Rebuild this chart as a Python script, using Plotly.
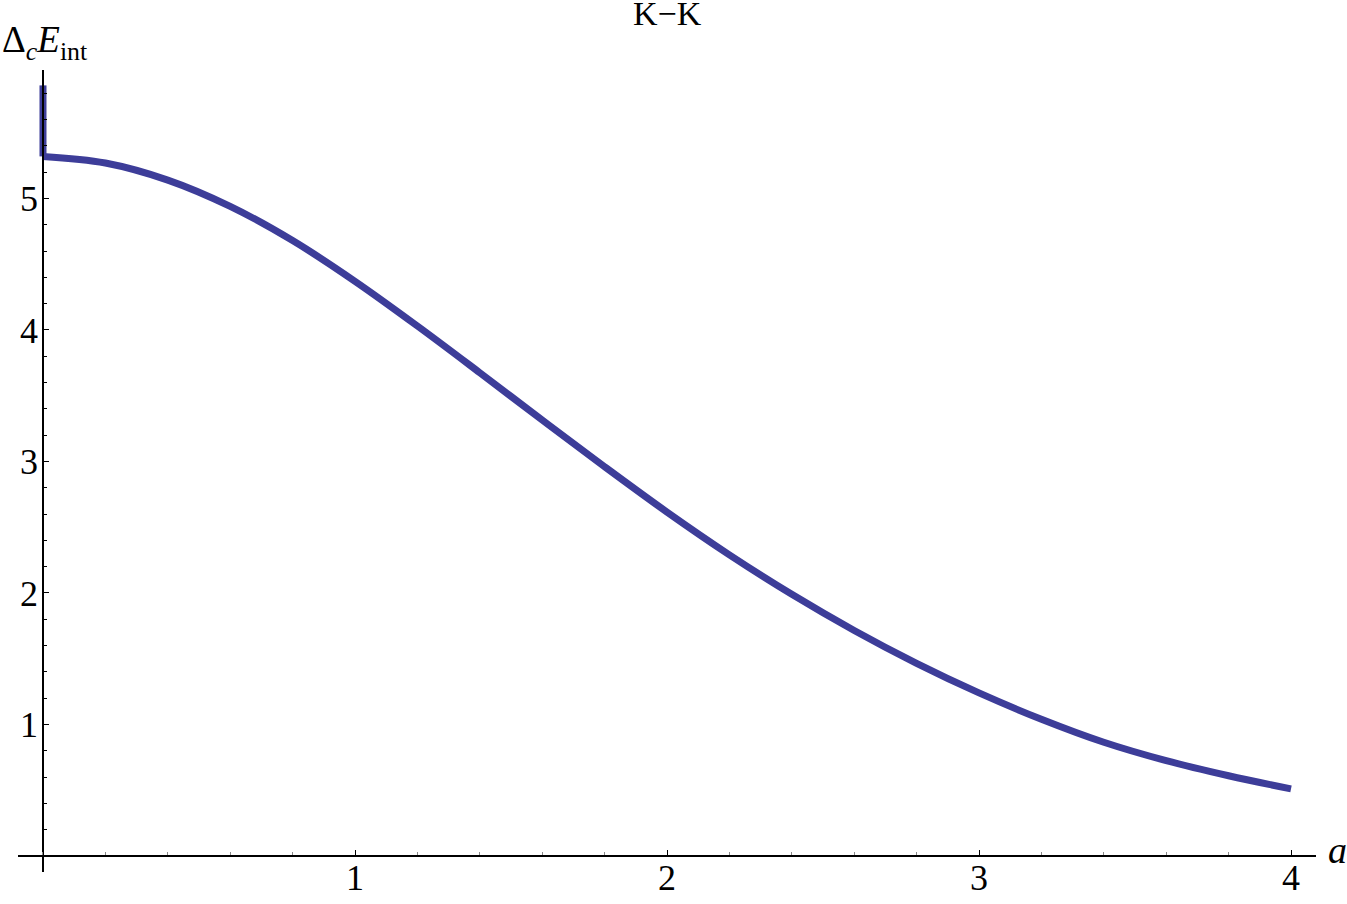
import plotly.graph_objects as go

# values
spike_a = [0.0, 0.0]
spike_e = [5.86, 5.32]

a_vals = [0.0, 0.2, 0.4, 0.6, 0.8, 1.0, 1.2, 1.4, 1.6, 1.8, 2.0,
          2.2, 2.4, 2.6, 2.8, 3.0, 3.2, 3.4, 3.6, 3.8, 4.0]
e_vals = [5.32, 5.27, 5.14, 4.94, 4.68, 4.37, 4.03, 3.675, 3.315, 2.96, 2.615,
          2.29, 1.99, 1.715, 1.465, 1.24, 1.04, 0.865, 0.725, 0.61, 0.51]

x_ticks = [1, 2, 3, 4]
y_ticks = [1, 2, 3, 4, 5]

line_color = "rgb(61,61,153)"
serif = "Liberation Serif"

fig = go.Figure()

fig.add_trace(go.Scatter(x=spike_a, y=spike_e, mode="lines",
                         line=dict(color=line_color, width=7),
                         showlegend=False, hoverinfo="skip"))
fig.add_trace(go.Scatter(x=a_vals, y=e_vals, mode="lines",
                         line=dict(color=line_color, width=7, shape="spline", smoothing=1.0),
                         showlegend=False))

fig.update_layout(
    width=1347, height=904,
    paper_bgcolor="white", plot_bgcolor="white",
    margin=dict(l=18, r=31, t=70, b=32, autoexpand=False),
    font=dict(family=serif, size=36, color="black"),
    xaxis=dict(
        range=[-0.0801, 4.0801], anchor="free", position=16 / 802,
        showline=True, linecolor="black", linewidth=1.5,
        showgrid=False, zeroline=False, automargin=False,
        tickvals=x_ticks, ticks="inside", ticklen=5, tickcolor="black",
        ticklabelstandoff=-10,
        minor=dict(dtick=0.2, tick0=0, ticks="inside", ticklen=3, tickcolor="#888"),
        tickfont=dict(family=serif, size=36),
    ),
    yaxis=dict(
        range=[-0.1217, 5.977], anchor="free", position=25 / 1298,
        showline=True, linecolor="black", linewidth=1.5,
        showgrid=False, zeroline=False, automargin=False,
        tickvals=y_ticks, ticks="inside", ticklen=5, tickcolor="black",
        ticklabelstandoff=-3,
        minor=dict(dtick=0.2, tick0=0, ticks="inside", ticklen=3, tickcolor="black"),
        tickfont=dict(family=serif, size=36),
    ),
    annotations=[
        dict(text="K\u2212K", xref="paper", yref="paper", x=0.5, y=(872 - 14) / 802,
             xanchor="center", yanchor="middle", showarrow=False,
             font=dict(family=serif, size=34)),
        dict(text="\u0394<sub><i>c</i></sub><i>E</i><sub>int</sub>", xref="paper", yref="paper",
             x=-18 / 1298, y=(872 - 43) / 802, xanchor="left", yanchor="middle",
             showarrow=False, font=dict(family=serif, size=37)),
        dict(text="<i>a</i>", xref="paper", yref="paper", x=(1326 - 18) / 1298,
             y=(872 - 850) / 802, xanchor="left", yanchor="middle", showarrow=False,
             font=dict(family=serif, size=38)),
    ],
)

# drop the browser's default body margin so the figure sits at the page corner
fig.write_html("out.html", config={"displayModeBar": False},
               post_script="document.body.style.margin = '0';")
